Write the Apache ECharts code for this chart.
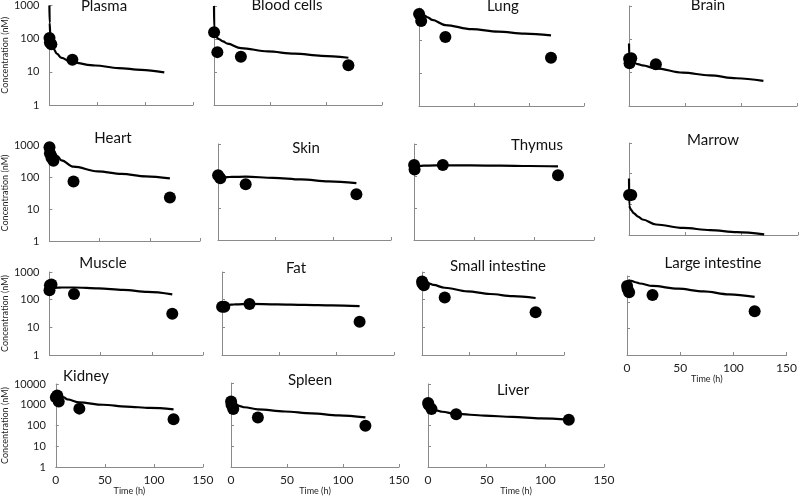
<!DOCTYPE html>
<html><head><meta charset="utf-8">
<script src="https://cdn.jsdelivr.net/npm/echarts@6/dist/echarts.min.js"></script>
<style>html,body{margin:0;padding:0;background:#fff}#c{width:800px;height:497px}</style>
</head><body><div id="c"></div>
<script>
// ---------- data ----------
const tissues = ['Plasma','Blood cells','Lung','Brain','Heart','Skin','Thymus','Marrow','Muscle','Fat','Small intestine','Large intestine','Kidney','Spleen','Liver'];
const xTicks = [0, 50, 100, 150];
const lineTime = [0, 0.25, 1, 2, 4, 8, 12, 24, 48, 72, 96, 120];

const plasmaLine = [1000, 300, 110, 70, 50, 35, 27, 19, 15.5, 13, 11.5, 9.6];
const plasmaObsT = [0.083, 0.5, 2, 24];
const plasmaObs  = [105, 76, 68, 23];

const bloodLine = [1000, 200, 130, 115, 100, 85, 72, 53, 42, 36, 31, 27];
const bloodObsT = [0.083, 3, 24, 120];
const bloodObs  = [160, 40, 29, 16];

const lungLine = [750, 760, 720, 680, 620, 520, 430, 300, 225, 190, 165, 145];
const lungObsT = [0.083, 2, 24, 120];
const lungObs  = [650, 400, 130, 30];

const brainLine = [75, 30, 24, 22, 20, 18, 16.5, 13.5, 10, 8.3, 6.8, 5.7];
const brainObsT = [0.083, 0.5, 2, 24];
const brainObs  = [26, 19, 27, 18];

const heartLine = [1000, 950, 900, 800, 650, 450, 330, 210, 150, 125, 105, 90];
const heartObsT = [0.083, 0.5, 2, 4, 24, 120];
const heartObs  = [850, 550, 400, 320, 72, 23];

const skinLine = [90, 82, 84, 86, 89, 92, 94, 95, 88, 78, 68, 60];
const skinObsT = [0.083, 2, 24, 120];
const skinObs  = [105, 85, 55, 27];

const thymusLine = [170, 180, 190, 200, 205, 210, 212, 215, 215, 210, 205, 200];
const thymusObsT = [0.083, 0.5, 24, 120];
const thymusObs  = [220, 160, 220, 105];

const marrowLine = [70, 9, 7.5, 6.5, 5.2, 4, 3.2, 2.2, 1.7, 1.45, 1.25, 1.05];
const marrowObsT = [0.083, 2];
const marrowObs  = [20, 20];

const muscleLine = [220, 230, 240, 255, 265, 272, 275, 275, 255, 225, 190, 155];
const muscleObsT = [0.083, 0.5, 2, 24, 120];
const muscleObs  = [220, 330, 350, 160, 31];

const fatLine = [55, 58, 60, 62, 64, 66, 68, 70, 68, 65, 62, 58];
const fatObsT = [0.083, 2, 24, 120];
const fatObs  = [55, 55, 70, 16];

const siLine = [400, 480, 500, 480, 440, 380, 340, 270, 200, 160, 135, 115];
const siObsT = [0.083, 0.5, 2, 24, 120];
const siObs  = [450, 380, 330, 120, 35];

const liLine = [500, 560, 620, 680, 650, 580, 520, 420, 330, 260, 200, 160];
const liObsT = [0.083, 0.5, 2, 24, 120];
const liObs  = [420, 320, 240, 190, 46];

const kidneyLine = [2200, 2700, 3200, 3400, 3200, 2300, 1800, 1300, 1000, 820, 700, 600];
const kidneyObsT = [0.083, 1.5, 3, 24, 120];
const kidneyObs  = [2300, 2800, 1450, 650, 200];

const spleenLine = [1400, 1300, 1200, 1100, 950, 800, 700, 560, 440, 360, 290, 230];
const spleenObsT = [0.083, 0.5, 2, 24, 120];
const spleenObs  = [1300, 900, 580, 230, 92];

const liverLine = [1200, 1100, 950, 800, 650, 520, 460, 360, 300, 260, 220, 190];
const liverObsT = [0.083, 0.5, 3, 24, 120];
const liverObs  = [1200, 1000, 620, 350, 190];

const lines = [plasmaLine, bloodLine, lungLine, brainLine, heartLine, skinLine, thymusLine, marrowLine, muscleLine, fatLine, siLine, liLine, kidneyLine, spleenLine, liverLine];
const obsT = [plasmaObsT, bloodObsT, lungObsT, brainObsT, heartObsT, skinObsT, thymusObsT, marrowObsT, muscleObsT, fatObsT, siObsT, liObsT, kidneyObsT, spleenObsT, liverObsT];
const obsV = [plasmaObs, bloodObs, lungObs, brainObs, heartObs, skinObs, thymusObs, marrowObs, muscleObs, fatObs, siObs, liObs, kidneyObs, spleenObs, liverObs];
const yMax = [1000,1000,1000,1000,1000,1000,1000,1000,1000,1000,1000,1000,10000,10000,10000];

// ---------- layout (plot rectangles: left, right, top, bottom) ----------
const rects = [
  [41,193,5,105],[214,382,6,105],[419,584,8,106],[629,797,6,106],
  [41,200,145,241],[218,391,144,240],[414,594,144,240],[629,798,143,235],
  [42,203,272,355],[222,394,272,355],[422,564,272,355],[627,792,276,355],
  [45,203,384,469],[231,399,383,468],[428,604,384,467]
];
const titlePos = [
  [104,8],[287,7],[503,8],[708,7],
  [113,140],[306,150],[537,147],[713,142],
  [103,265],[296,270],[498,268],[713,265],
  [86,378],[310,382],[513,392]
];
const showY = [0,4,8,12];
const showX = [11,12,13,14];
const FONT = 'Lato, "Open Sans", sans-serif';

const chart = echarts.init(document.getElementById('c'), null, {renderer:'canvas'});
const grid=[], xAxis=[], yAxis=[], series=[], title=[];
tissues.forEach((name,i)=>{
  const r = rects[i];
  grid.push({left:r[0], top:r[2], width:r[1]-r[0], height:r[3]-r[2], containLabel:false});
  const sx = showX.includes(i), sy = showY.includes(i);
  xAxis.push({gridIndex:i, type:'value', min:xTicks[0], max:xTicks[xTicks.length-1], interval:50,
    axisLine:{lineStyle:{color:'#8a8a8a', width:1}},
    axisTick:{show:true, inside:true, length:3, lineStyle:{color:'#8a8a8a'}},
    axisLabel:{show:sx, color:'#222', fontSize:12, fontFamily:FONT, margin:7},
    splitLine:{show:false},
    name: sx ? 'Time (h)' : '', nameLocation:'middle', nameGap:20,
    nameTextStyle:{fontSize:9, color:'#222', fontFamily:FONT}
  });
  yAxis.push({gridIndex:i, type:'log', logBase:10, min:1, max:yMax[i],
    axisLine:{show:true, lineStyle:{color:'#8a8a8a', width:1}},
    axisTick:{show:true, inside:true, length:3, lineStyle:{color:'#8a8a8a'}},
    minorTick:{show:false},
    axisLabel:{show:sy, color:'#222', fontSize:11, fontFamily:FONT, margin:10,
      formatter:(v)=>String(Math.round(v))},
    splitLine:{show:false},
    name: sy ? 'Concentration (nM)' : '', nameLocation:'middle', nameRotate:90,
    nameGap: i===12 ? 39 : 32,
    nameTextStyle:{fontSize:9, color:'#222', fontFamily:FONT}
  });
  series.push({type:'line', xAxisIndex:i, yAxisIndex:i, data: lineTime.map((t,k)=>[t, lines[i][k]]),
    showSymbol:false, smooth:0.35, smoothMonotone:'x', lineStyle:{color:'#000', width:2.2}, z:2, silent:true});
  series.push({type:'scatter', xAxisIndex:i, yAxisIndex:i, data: obsT[i].map((t,k)=>[t, obsV[i][k]]),
    symbolSize:12, itemStyle:{color:'#000', opacity:1}, z:3, silent:true});
  title.push({text:name, left:titlePos[i][0], top:titlePos[i][1]-9, textAlign:'center', padding:0,
    textStyle:{fontSize:15, fontWeight:'normal', color:'#111', fontFamily:FONT}});
});
chart.setOption({animation:false, title, grid, xAxis, yAxis, series});
</script></body></html>
